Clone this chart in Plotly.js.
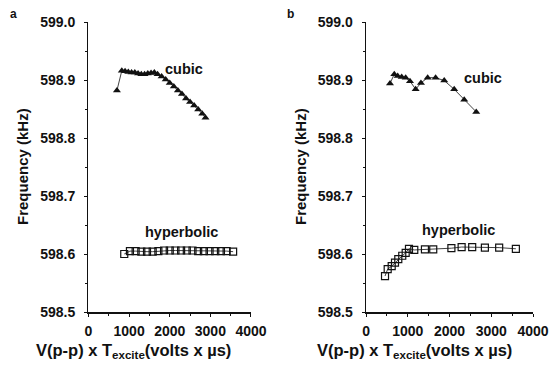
<!DOCTYPE html>
<html>
<head>
<meta charset="utf-8">
<script src="https://cdn.plot.ly/plotly-3.0.1.min.js"></script>
<style>html,body{margin:0;padding:0;background:#fff}#chart{width:549px;height:369px}</style>
</head>
<body>
<div id="chart"></div>
<script>
// Panel a
const aCubicX = [700, 820, 900, 980, 1060, 1140, 1220, 1300, 1380, 1460, 1540, 1620, 1700, 1800, 1900, 2000, 2100, 2200, 2300, 2400, 2500, 2600, 2700, 2800, 2880];
const aCubicY = [598.882, 598.916, 598.915, 598.914, 598.913, 598.913, 598.911, 598.910, 598.910, 598.911, 598.912, 598.913, 598.910, 598.906, 598.901, 598.895, 598.889, 598.882, 598.876, 598.868, 598.862, 598.856, 598.849, 598.842, 598.835];
const aHypX = [880, 1020, 1160, 1300, 1440, 1580, 1720, 1860, 2000, 2140, 2280, 2420, 2560, 2700, 2840, 2980, 3120, 3260, 3400, 3560];
const aHypY = [598.600, 598.605, 598.605, 598.604, 598.604, 598.604, 598.605, 598.606, 598.606, 598.606, 598.606, 598.606, 598.606, 598.605, 598.605, 598.605, 598.605, 598.605, 598.605, 598.604];
// Panel b
const bCubicX = [574, 677, 758, 854, 950, 1053, 1189, 1316, 1476, 1667, 1873, 2112, 2352, 2640];
const bCubicY = [598.894, 598.910, 598.907, 598.905, 598.904, 598.898, 598.884, 598.895, 598.904, 598.904, 598.899, 598.884, 598.866, 598.845];
const bHypX = [455, 519, 615, 694, 773, 868, 950, 1029, 1156, 1411, 1610, 2045, 2290, 2543, 2847, 3189, 3589];
const bHypY = [598.562, 598.574, 598.579, 598.585, 598.591, 598.597, 598.602, 598.609, 598.607, 598.608, 598.608, 598.610, 598.612, 598.612, 598.611, 598.611, 598.609];
const xTicks = [0, 1000, 2000, 3000, 4000];
const yTicks = [598.5, 598.6, 598.7, 598.8, 598.9, 599.0];
const yTickText = ["598.5", "598.6", "598.7", "598.8", "598.9", "599.0"];
const seriesLabels = ["cubic", "hyperbolic"];
const panelLabels = ["a", "b"];
const yTitle = "Frequency (kHz)";
const xTitle = "V(p-p) x T<sub>excite</sub>(volts x µs)";

const tickFont = {family: "Liberation Sans, Arial, sans-serif", size: 14, color: "#111", weight: 700};
const yLblFont = {family: "Liberation Sans, Arial, sans-serif", size: 15, color: "#111", weight: 700};
const xLblFont = {family: "Liberation Sans, Arial, sans-serif", size: 16.5, color: "#111", weight: 700};
const serFont = {family: "Liberation Sans, Arial, sans-serif", size: 14.5, color: "#111", weight: 700};

function tri(x, y, xa, ya, lw) {
  return {x: x, y: y, xaxis: xa, yaxis: ya, type: "scatter", mode: "lines+markers",
    line: {color: "#111", width: lw},
    marker: {symbol: "triangle-up", size: 7, color: "#111"}, showlegend: false, hoverinfo: "skip"};
}
function sq(x, y, xa, ya, lw) {
  return {x: x, y: y, xaxis: xa, yaxis: ya, type: "scatter", mode: "lines+markers",
    line: {color: "#111", width: lw},
    marker: {symbol: "square-open", size: 7, color: "#111", line: {width: 1.2, color: "#111"}}, showlegend: false, hoverinfo: "skip"};
}
const data = [
  tri(aCubicX, aCubicY, "x", "y", 0.8),
  sq(aHypX, aHypY, "x", "y", 0.8),
  tri(bCubicX, bCubicY, "x2", "y2", 0.8),
  sq(bHypX, bHypY, "x2", "y2", 0.8)
];

function xax(domain, anchor) {
  return {domain: domain, anchor: anchor, range: [0, 4000], tickvals: xTicks, ticktext: xTicks.map(String),
    showgrid: false, zeroline: false, showline: true, linecolor: "#111", linewidth: 1.5,
    ticks: "outside", ticklen: 3, tickcolor: "#111", tickfont: tickFont, ticklabelstandoff: 3,
    minor: {dtick: 500, ticks: "outside", ticklen: 2, tickcolor: "#111"}};
}
function yax(anchor) {
  return {domain: [0, 1], anchor: anchor, range: [598.5, 599.0], tickvals: yTicks, ticktext: yTickText,
    showgrid: false, zeroline: false, showline: true, linecolor: "#111", linewidth: 1.5,
    ticks: "outside", ticklen: 3, tickcolor: "#111", tickfont: tickFont, ticklabelstandoff: 6,
    minor: {dtick: 0.05, ticks: "outside", ticklen: 2, tickcolor: "#111"}};
}

const layout = {
  width: 549, height: 369,
  margin: {l: 0, r: 0, t: 22, b: 57},
  paper_bgcolor: "#fff", plot_bgcolor: "#fff",
  xaxis: xax([0.1612, 0.4572], "y"),
  yaxis: yax("x"),
  xaxis2: xax([0.6667, 0.9709], "y2"),
  yaxis2: yax("x2"),
  annotations: [
    {xref: "paper", yref: "paper", x: 13 / 549, y: 1 + 8 / 290, xanchor: "center", yanchor: "middle", text: panelLabels[0], showarrow: false, font: {family: "Liberation Sans, Arial, sans-serif", size: 12, color: "#111", weight: 700}},
    {xref: "paper", yref: "paper", x: 290 / 549, y: 1 + 8 / 290, xanchor: "center", yanchor: "middle", text: panelLabels[1], showarrow: false, font: {family: "Liberation Sans, Arial, sans-serif", size: 12, color: "#111", weight: 700}},
    {xref: "x", yref: "y", x: 1830, y: 598.919, text: seriesLabels[0], showarrow: false, xanchor: "left", yanchor: "middle", font: serFont},
    {xref: "x", yref: "y", x: 1330, y: 598.638, text: seriesLabels[1], showarrow: false, xanchor: "left", yanchor: "middle", font: serFont},
    {xref: "x2", yref: "y2", x: 2300, y: 598.904, text: seriesLabels[0], showarrow: false, xanchor: "left", yanchor: "middle", font: serFont},
    {xref: "x2", yref: "y2", x: 1300, y: 598.642, text: seriesLabels[1], showarrow: false, xanchor: "left", yanchor: "middle", font: serFont},
    {xref: "paper", yref: "paper", x: 22 / 549, y: 0.5, xanchor: "center", yanchor: "middle", text: yTitle, textangle: -90, showarrow: false, font: yLblFont},
    {xref: "paper", yref: "paper", x: 300 / 549, y: 0.5, xanchor: "center", yanchor: "middle", text: yTitle, textangle: -90, showarrow: false, font: yLblFont},
    {xref: "paper", yref: "paper", x: 133 / 549, y: -(351 - 312) / 290, xanchor: "center", yanchor: "middle", text: xTitle, showarrow: false, font: xLblFont},
    {xref: "paper", yref: "paper", x: 414 / 549, y: -(351 - 312) / 290, xanchor: "center", yanchor: "middle", text: xTitle, showarrow: false, font: xLblFont}
  ]
};
Plotly.newPlot("chart", data, layout, {staticPlot: true, displayModeBar: false});
</script>
</body>
</html>
